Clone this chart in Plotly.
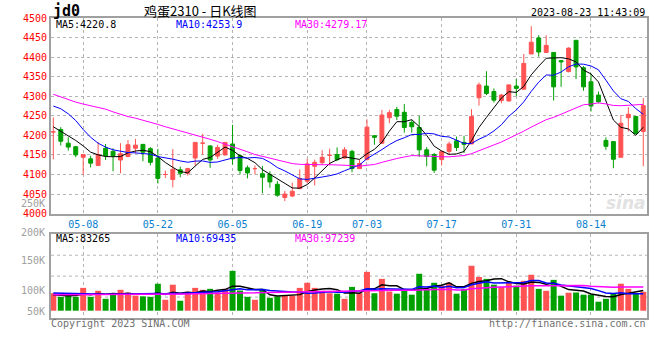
import plotly.graph_objects as go

# ---------------- data ----------------
DATE_LABELS = ["05-08", "05-22", "06-05", "06-19", "07-03", "07-17", "07-31", "08-14"]
DATE_IDX = [4, 14, 24, 34, 42, 52, 62, 72]

OPEN = [4209, 4215, 4180, 4171, 4144, 4140, 4123, 4167, 4159, 4137,
        4146, 4167, 4177, 4166, 4142, 4100, 4087, 4112, 4103, 4142,
        4180, 4173, 4147, 4150, 4178, 4148, 4117, 4115, 4102, 4100,
        4075, 4041, 4045, 4064, 4083, 4121, 4130, 4149, 4151, 4142,
        4159, 4115, 4138, 4199, 4180, 4245, 4266, 4259, 4233, 4220,
        4163, 4151, 4138, 4159, 4186, 4182, 4178, 4296, 4326, 4312,
        4289, 4288, 4326, 4318, 4408, 4449, 4412, 4412, 4391, 4363,
        4443, 4373, 4337, 4303, 4187, 4184, 4144, 4245, 4248, 4210]
HIGH = [4246, 4221, 4195, 4173, 4151, 4148, 4183, 4178, 4167, 4180,
        4188, 4191, 4178, 4170, 4165, 4110, 4165, 4120, 4117, 4183,
        4204, 4175, 4176, 4183, 4227, 4152, 4123, 4123, 4122, 4108,
        4083, 4058, 4079, 4113, 4140, 4138, 4162, 4166, 4169, 4170,
        4163, 4138, 4241, 4201, 4265, 4265, 4273, 4280, 4239, 4250,
        4170, 4155, 4159, 4184, 4197, 4199, 4267, 4335, 4364, 4320,
        4306, 4330, 4344, 4408, 4479, 4456, 4456, 4413, 4392, 4425,
        4443, 4377, 4358, 4312, 4195, 4184, 4252, 4272, 4250, 4295]
LOW = [4139, 4174, 4161, 4144, 4099, 4118, 4123, 4137, 4108, 4103,
       4144, 4154, 4134, 4123, 4077, 4091, 4067, 4093, 4097, 4123,
       4150, 4117, 4140, 4148, 4125, 4100, 4090, 4100, 4052, 4066,
       4043, 4032, 4042, 4062, 4077, 4072, 4125, 4123, 4134, 4140,
       4106, 4114, 4136, 4176, 4178, 4231, 4239, 4207, 4207, 4145,
       4121, 4104, 4123, 4150, 4160, 4155, 4178, 4276, 4303, 4284,
       4282, 4286, 4300, 4318, 4408, 4401, 4411, 4289, 4324, 4361,
       4344, 4314, 4261, 4282, 4163, 4116, 4144, 4210, 4203, 4121]
CLOSE = [4209, 4185, 4170, 4150, 4151, 4129, 4151, 4148, 4148, 4153,
         4176, 4175, 4157, 4131, 4090, 4100, 4113, 4103, 4115, 4182,
         4180, 4137, 4169, 4182, 4140, 4110, 4104, 4115, 4093, 4081,
         4047, 4050, 4057, 4090, 4127, 4131, 4144, 4149, 4138, 4163,
         4115, 4128, 4221, 4195, 4252, 4258, 4249, 4220, 4222, 4163,
         4146, 4111, 4159, 4178, 4169, 4177, 4248, 4329, 4307, 4290,
         4303, 4329, 4320, 4384, 4438, 4413, 4430, 4324, 4388, 4423,
         4375, 4324, 4275, 4286, 4172, 4139, 4231, 4254, 4205, 4276]

MA5 = [4222, 4211, 4199, 4187, 4173.0, 4157.0, 4150.2, 4145.8, 4145.4, 4145.8,
       4155.2, 4160.0, 4161.8, 4158.4, 4145.8, 4130.6, 4118.2, 4107.4, 4104.2, 4122.6,
       4138.6, 4143.4, 4156.6, 4170.0, 4161.6, 4147.6, 4141.0, 4130.2, 4112.4, 4100.6,
       4088.0, 4077.2, 4065.6, 4065.0, 4074.2, 4091.0, 4109.8, 4128.2, 4137.8, 4145.0,
       4141.8, 4138.6, 4153.0, 4164.4, 4182.2, 4210.8, 4235.0, 4234.8, 4240.2, 4222.4,
       4200.0, 4172.4, 4160.2, 4151.4, 4152.6, 4158.8, 4186.2, 4220.2, 4246.0, 4270.2,
       4295.4, 4311.6, 4309.8, 4325.2, 4354.8, 4376.8, 4397.0, 4397.8, 4398.6, 4395.6,
       4388.0, 4366.8, 4357.0, 4336.6, 4286.4, 4239.2, 4220.6, 4216.4, 4200.2, 4220.8]
MA10 = [4275, 4268, 4255, 4238, 4215, 4195, 4180, 4170, 4163, 4159.4,
        4156.1, 4155.1, 4153.8, 4151.9, 4145.8, 4142.9, 4139.1, 4134.6, 4131.3, 4134.2,
        4134.6, 4130.8, 4132.0, 4137.1, 4142.1, 4143.1, 4142.2, 4143.4, 4141.2, 4131.1,
        4117.8, 4109.1, 4097.9, 4088.7, 4087.4, 4089.5, 4093.5, 4096.9, 4101.4, 4109.6,
        4116.4, 4124.2, 4140.6, 4151.1, 4163.6, 4176.3, 4186.8, 4193.9, 4202.3, 4202.3,
        4205.4, 4203.7, 4197.5, 4195.8, 4187.5, 4179.4, 4179.3, 4190.2, 4198.7, 4211.4,
        4227.1, 4248.9, 4265.0, 4285.6, 4312.5, 4336.1, 4354.3, 4353.8, 4361.9, 4375.2,
        4382.4, 4381.9, 4377.4, 4367.6, 4341.0, 4313.6, 4293.7, 4286.7, 4268.4, 4253.9]
MA30 = [4305, 4298, 4290, 4285, 4280, 4276, 4272, 4267, 4260, 4253,
        4248, 4244, 4239, 4233, 4228, 4222, 4217, 4211, 4205, 4200,
        4195, 4190, 4184, 4178, 4172, 4166, 4158, 4151, 4146, 4141.6,
        4136.2, 4131.7, 4127.9, 4125.9, 4125.1, 4125.2, 4124.9, 4125.0, 4124.6, 4125.0,
        4122.9, 4121.4, 4123.5, 4125.6, 4131.0, 4136.3, 4140.8, 4144.7, 4148.3, 4147.7,
        4146.5, 4145.7, 4145.3, 4145.2, 4146.2, 4148.4, 4153.2, 4160.3, 4167.5, 4174.4,
        4183.0, 4192.3, 4201.0, 4210.8, 4221.2, 4230.6, 4240.1, 4246.0, 4254.3, 4263.0,
        4271.6, 4278.2, 4280.0, 4283.0, 4280.3, 4276.4, 4275.8, 4276.9, 4276.3, 4279.17]

# volume in thousands (K)
VOLUME = [72, 57, 64, 57, 94, 57, 82, 49, 70, 86,
          74, 62, 59, 57, 111, 45, 107, 41, 78, 94,
          86, 90, 75, 90, 164, 83, 57, 45, 90, 53,
          59, 63, 62, 94, 115, 94, 82, 72, 70, 49,
          98, 72, 160, 72, 131, 79, 70, 82, 66, 152,
          89, 115, 103, 115, 70, 90, 185, 139, 131, 107,
          98, 119, 103, 123, 148, 90, 82, 127, 62, 74,
          75, 66, 66, 37, 49, 70, 111, 90, 70, 78]
VMA5 = [66, 63, 62, 63, 68.8, 65.8, 70.8, 67.8, 70.4, 68.8,
        72.2, 68.2, 70.2, 67.6, 72.6, 66.8, 75.8, 72.2, 76.4, 73.0,
        81.2, 77.8, 84.6, 87.0, 101.0, 100.4, 93.8, 87.8, 87.8, 65.6,
        60.8, 62.0, 65.4, 66.2, 78.6, 85.6, 89.4, 91.4, 86.6, 73.4,
        74.2, 72.2, 89.8, 90.2, 106.6, 102.8, 102.4, 86.8, 85.6, 89.8,
        91.8, 100.8, 105.0, 114.8, 98.4, 98.6, 112.6, 119.8, 123.0, 130.4,
        132.0, 118.8, 111.6, 110.0, 118.2, 116.6, 109.2, 114.0, 101.8, 87.0,
        84.0, 80.8, 68.6, 63.6, 58.6, 57.6, 66.6, 71.4, 78.0, 83.3]
VMA10 = [73, 72, 70, 69, 68, 68, 68, 68, 68, 68.8,
         69.0, 69.5, 69.0, 69.0, 70.7, 69.5, 72.0, 71.2, 72.0, 72.8,
         74.0, 76.8, 78.4, 81.7, 87.0, 90.8, 85.8, 86.2, 87.4, 83.3,
         80.6, 77.9, 76.6, 77.0, 72.1, 73.2, 75.7, 78.4, 76.4, 76.0,
         79.9, 80.8, 90.6, 88.4, 90.0, 88.5, 87.3, 88.3, 87.9, 98.2,
         97.3, 101.6, 95.9, 100.2, 94.1, 95.2, 106.7, 112.4, 118.9, 114.4,
         115.3, 115.7, 115.7, 116.5, 124.3, 124.3, 114.0, 112.8, 105.9, 102.6,
         100.3, 95.0, 91.3, 82.7, 72.8, 70.8, 73.7, 70.0, 70.8, 69.4]
VMA30 = [66, 66, 66, 66, 66, 66, 66, 66, 66, 66,
         66.5, 67, 67, 67, 67, 67.5, 68, 68.5, 69, 69.5,
         70, 70.5, 71, 71.5, 72, 72.5, 73, 73.5, 74, 75.0,
         74.5, 74.7, 74.7, 75.9, 76.6, 77.8, 77.8, 78.6, 78.6, 77.4,
         78.2, 78.5, 81.9, 82.4, 83.0, 84.2, 82.9, 84.3, 83.9, 85.8,
         85.9, 86.8, 87.7, 88.5, 85.4, 85.6, 89.9, 93.0, 94.4, 96.2,
         97.5, 99.4, 100.7, 101.7, 102.8, 102.7, 102.7, 104.5, 104.2, 105.1,
         104.3, 104.1, 101.0, 99.8, 97.1, 96.8, 98.1, 98.4, 98.5, 97.2]

PRICE_TICKS = [4000, 4050, 4100, 4150, 4200, 4250, 4300, 4350, 4400, 4450, 4500]
VOL_TICK_TEXT = ["250K", "200K", "150K", "100K", "50K"]
MAIN_MA_TEXT = ["MA5:4220.8", "MA10:4253.9", "MA30:4279.17"]
VOL_MA_TEXT = ["MA5:83265", "MA10:69435", "MA30:97239"]
TITLE_CODE = "jd0"
TITLE = "鸡蛋2310 - 日K线图"
TIMESTAMP = "2023-08-23 11:43:09"
COPYRIGHT = "Copyright 2023 SINA.COM"
URL = "http://finance.sina.com.cn"

# ---------------- style / layout ----------------
W, H = 660, 360
L, R, T, B = 51, 11, 18, 42
PW, PH = W - L - R, H - T - B


def fx(px):
    return (px - L) / PW


def fy(py):
    return (H - B - py) / PH


RED = "#ff5353"
GREEN = "#00a000"
GRID = "#b4b4b4"
AXIS = "#a0a0a0"
MONO = "DejaVu Sans Mono"

N = len(CLOSE)
idx = list(range(N))
up = [CLOSE[i] >= OPEN[i] for i in idx]

fig = go.Figure()


def candles(sel, color):
    ii = [i for i in idx if sel(i)]
    return go.Candlestick(
        x=ii, open=[OPEN[i] for i in ii], high=[HIGH[i] for i in ii],
        low=[LOW[i] for i in ii], close=[CLOSE[i] for i in ii],
        increasing=dict(line=dict(color=color, width=1), fillcolor=color),
        decreasing=dict(line=dict(color=color, width=1), fillcolor=color),
        whiskerwidth=0, showlegend=False, hoverinfo="skip",
        xaxis="x", yaxis="y")


fig.add_trace(candles(lambda i: up[i], RED))
fig.add_trace(candles(lambda i: not up[i], GREEN))

for ys, col in [(MA5, "#000000"), (MA10, "#0000ff"), (MA30, "#ff00ff")]:
    fig.add_trace(go.Scatter(x=idx, y=ys, mode="lines", line=dict(color=col, width=1),
                             showlegend=False, hoverinfo="skip", xaxis="x", yaxis="y"))

fig.add_trace(go.Bar(x=idx, y=VOLUME, width=0.8,
                     marker=dict(color=[RED if u else GREEN for u in up], line=dict(width=0)),
                     showlegend=False, hoverinfo="skip", xaxis="x2", yaxis="y2"))
for ys, col in [(VMA5, "#000000"), (VMA10, "#0000ff"), (VMA30, "#ff00ff")]:
    fig.add_trace(go.Scatter(x=idx, y=ys, mode="lines", line=dict(color=col, width=1.5),
                             showlegend=False, hoverinfo="skip", xaxis="x2", yaxis="y2"))

main_dom = [fy(213.6), 1.0]
vol_dom = [fy(318), fy(234.3)]
xr = [-0.31, 79.5]

common_x = dict(range=xr, showgrid=True, gridcolor=GRID, griddash="dot", gridwidth=1,
                showline=True, mirror=True, linecolor=AXIS, linewidth=2,
                zeroline=False, tickvals=DATE_IDX, ticks="", fixedrange=True)

fig.update_layout(
    width=W, height=H, margin=dict(l=L, r=R, t=T, b=B),
    paper_bgcolor="white", plot_bgcolor="white",
    font=dict(family=MONO, size=10, color="#000000"),
    boxgap=0.25,
    xaxis=dict(**common_x, domain=[0, 1], anchor="y", ticktext=DATE_LABELS,
               tickfont=dict(family=MONO, size=10, color="#0a80d0"),
               rangeslider=dict(visible=False)),
    xaxis2=dict(**common_x, domain=[0, 1], anchor="y2", matches="x", showticklabels=False),
    yaxis=dict(domain=main_dom, range=[4000, 4500], tickvals=PRICE_TICKS,
               tickfont=dict(family=MONO, size=10, color="#ff0000"),
               showgrid=True, gridcolor=GRID, griddash="dot", gridwidth=1,
               showline=True, mirror=True, linecolor=AXIS, linewidth=2,
               zeroline=False, ticks="", fixedrange=True),
    yaxis2=dict(domain=vol_dom, range=[-30, 314.5], showticklabels=False,
                showgrid=False, showline=True, mirror=True, linecolor=AXIS, linewidth=2,
                zeroline=False, ticks="", fixedrange=True),
)

# horizontal gridlines of the volume panel
for f in (0.25, 0.5, 0.75):
    fig.add_shape(type="line", xref="x2 domain", yref="y2 domain", x0=0, x1=1, y0=f, y1=f,
                  line=dict(color=GRID, width=1, dash="dot"), layer="below")

ann = []


def text(s, px, py, color="#000000", size=10, xanchor="left", family=MONO, **kw):
    ann.append(dict(text=s, x=fx(px), y=fy(py), xref="paper", yref="paper",
                    xanchor=xanchor, yanchor="middle", showarrow=False,
                    font=dict(family=family, size=size, color=color), **kw))


text("<b>" + TITLE_CODE + "</b>", 51, 11, size=15)
text(TITLE, 201, 11, size=13, xanchor="center", family="Noto Sans CJK SC")
text(TIMESTAMP, 649.5, 12.5, xanchor="right")
for s, px, col in zip(MAIN_MA_TEXT, [54, 174, 294], ["#000000", "#0000ff", "#ff00ff"]):
    text(s, px, 24, color=col)
for s, px, col in zip(VOL_MA_TEXT, [54, 174, 294], ["#000000", "#0000ff", "#ff00ff"]):
    text(s, px, 238.5, color=col)
for s, py in zip(VOL_TICK_TEXT, [203.5, 232, 260.7, 290.7, 311]):
    text(s, 46.5, py, color="#a0a0a0", xanchor="right")
text(COPYRIGHT, 49, 323, color="#707070")
text(URL, 650, 323.5, color="#707070", xanchor="right")
text("<i><b>sina</b></i>", 628, 203, color="#e2e2e2", size=17, xanchor="center",
     family="DejaVu Sans")

fig.update_layout(annotations=ann)
fig.write_html("out.html", config={"displayModeBar": False},
               post_script="document.body.style.margin='0';document.body.style.overflow='hidden';")
